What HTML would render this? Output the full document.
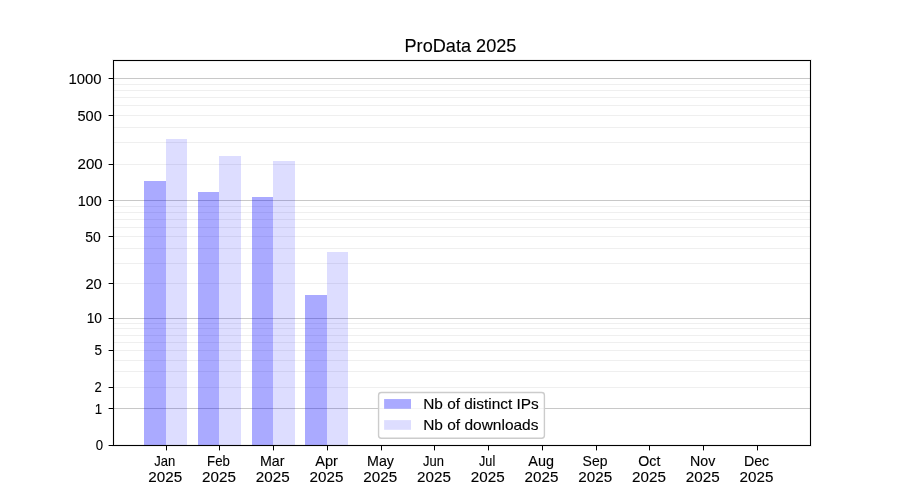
<!DOCTYPE html><html><head><meta charset="utf-8"><title>ProData 2025</title><style>html,body{margin:0;padding:0;background:#fff;overflow:hidden;}svg{display:block;will-change:transform;}text{font-family:"Liberation Sans",sans-serif;fill:#000;stroke:#000;stroke-width:0.12px;}</style></head><body>
<svg width="900" height="500" viewBox="0 0 900 500">
<rect x="0" y="0" width="900" height="500" fill="#fff"/>
<rect x="114" y="387" width="696" height="1" fill="#efefef"/>
<rect x="114" y="371" width="696" height="1" fill="#efefef"/>
<rect x="114" y="360" width="696" height="1" fill="#efefef"/>
<rect x="114" y="350" width="696" height="1" fill="#efefef"/>
<rect x="114" y="342" width="696" height="1" fill="#efefef"/>
<rect x="114" y="335" width="696" height="1" fill="#efefef"/>
<rect x="114" y="328" width="696" height="1" fill="#efefef"/>
<rect x="114" y="323" width="696" height="1" fill="#efefef"/>
<rect x="114" y="283" width="696" height="1" fill="#efefef"/>
<rect x="114" y="263" width="696" height="1" fill="#efefef"/>
<rect x="114" y="248" width="696" height="1" fill="#efefef"/>
<rect x="114" y="236" width="696" height="1" fill="#efefef"/>
<rect x="114" y="227" width="696" height="1" fill="#efefef"/>
<rect x="114" y="219" width="696" height="1" fill="#efefef"/>
<rect x="114" y="212" width="696" height="1" fill="#efefef"/>
<rect x="114" y="206" width="696" height="1" fill="#efefef"/>
<rect x="114" y="164" width="696" height="1" fill="#efefef"/>
<rect x="114" y="142" width="696" height="1" fill="#efefef"/>
<rect x="114" y="127" width="696" height="1" fill="#efefef"/>
<rect x="114" y="115" width="696" height="1" fill="#efefef"/>
<rect x="114" y="105" width="696" height="1" fill="#efefef"/>
<rect x="114" y="97" width="696" height="1" fill="#efefef"/>
<rect x="114" y="90" width="696" height="1" fill="#efefef"/>
<rect x="114" y="84" width="696" height="1" fill="#efefef"/>
<rect x="114" y="408" width="696" height="1" fill="#c8c8c8"/>
<rect x="114" y="318" width="696" height="1" fill="#c8c8c8"/>
<rect x="114" y="200" width="696" height="1" fill="#c8c8c8"/>
<rect x="114" y="78" width="696" height="1" fill="#c8c8c8"/>
<rect x="144" y="181" width="22" height="264" fill="rgba(0,0,255,0.333)"/>
<rect x="166" y="139" width="21" height="306" fill="rgba(0,0,255,0.133)"/>
<rect x="198" y="192" width="21" height="253" fill="rgba(0,0,255,0.333)"/>
<rect x="219" y="156" width="22" height="289" fill="rgba(0,0,255,0.133)"/>
<rect x="252" y="197" width="21" height="248" fill="rgba(0,0,255,0.333)"/>
<rect x="273" y="161" width="22" height="284" fill="rgba(0,0,255,0.133)"/>
<rect x="305" y="295" width="22" height="150" fill="rgba(0,0,255,0.333)"/>
<rect x="327" y="252" width="21" height="193" fill="rgba(0,0,255,0.133)"/>
<rect x="112" y="59" width="700" height="1" fill="rgba(0,0,0,0.06)"/><rect x="114" y="61" width="696" height="1" fill="rgba(0,0,0,0.06)"/>
<rect x="112" y="446" width="700" height="1" fill="rgba(0,0,0,0.06)"/><rect x="114" y="444" width="696" height="1" fill="rgba(0,0,0,0.06)"/>
<rect x="112" y="60" width="1" height="386" fill="rgba(0,0,0,0.06)"/><rect x="114" y="62" width="1" height="382" fill="rgba(0,0,0,0.06)"/>
<rect x="811" y="60" width="1" height="386" fill="rgba(0,0,0,0.06)"/><rect x="809" y="62" width="1" height="382" fill="rgba(0,0,0,0.06)"/>
<rect x="113" y="60" width="698" height="1" fill="#000"/>
<rect x="113" y="445" width="698" height="1" fill="#000"/>
<rect x="113" y="60" width="1" height="386" fill="#000"/>
<rect x="810" y="60" width="1" height="386" fill="#000"/>
<rect x="109" y="78" width="4" height="1" fill="#000"/><rect x="108" y="78" width="1" height="1" fill="rgba(0,0,0,0.4)"/>
<text transform="translate(68.43 84) scale(1.0622 1)" font-size="14">1000</text>
<rect x="109" y="115" width="4" height="1" fill="#000"/><rect x="108" y="115" width="1" height="1" fill="rgba(0,0,0,0.4)"/>
<text transform="translate(77.40 121) scale(1.0425 1)" font-size="14">500</text>
<rect x="109" y="164" width="4" height="1" fill="#000"/><rect x="108" y="164" width="1" height="1" fill="rgba(0,0,0,0.4)"/>
<text transform="translate(77.50 169) scale(1.0769 1)" font-size="14">200</text>
<rect x="109" y="200" width="4" height="1" fill="#000"/><rect x="108" y="200" width="1" height="1" fill="rgba(0,0,0,0.4)"/>
<text transform="translate(77.76 206) scale(1.0271 1)" font-size="14">100</text>
<rect x="109" y="236" width="4" height="1" fill="#000"/><rect x="108" y="236" width="1" height="1" fill="rgba(0,0,0,0.4)"/>
<text transform="translate(85.33 242) scale(0.9946 1)" font-size="14">50</text>
<rect x="109" y="283" width="4" height="1" fill="#000"/><rect x="108" y="283" width="1" height="1" fill="rgba(0,0,0,0.4)"/>
<text transform="translate(85.41 289) scale(1.0545 1)" font-size="14">20</text>
<rect x="109" y="318" width="4" height="1" fill="#000"/><rect x="108" y="318" width="1" height="1" fill="rgba(0,0,0,0.4)"/>
<text transform="translate(86.69 323) scale(0.9841 1)" font-size="14">10</text>
<rect x="109" y="350" width="4" height="1" fill="#000"/><rect x="108" y="350" width="1" height="1" fill="rgba(0,0,0,0.4)"/>
<text transform="translate(94.45 355) scale(0.9614 1)" font-size="14">5</text>
<rect x="109" y="387" width="4" height="1" fill="#000"/><rect x="108" y="387" width="1" height="1" fill="rgba(0,0,0,0.4)"/>
<text transform="translate(94.45 392) scale(0.9321 1)" font-size="14">2</text>
<rect x="109" y="408" width="4" height="1" fill="#000"/><rect x="108" y="408" width="1" height="1" fill="rgba(0,0,0,0.4)"/>
<text transform="translate(94.72 414) scale(0.9451 1)" font-size="14">1</text>
<rect x="109" y="445" width="4" height="1" fill="#000"/><rect x="108" y="445" width="1" height="1" fill="rgba(0,0,0,0.4)"/>
<text transform="translate(95.64 450) scale(0.9406 1)" font-size="14">0</text>
<rect x="166" y="446" width="1" height="4" fill="#000"/><rect x="166" y="450" width="1" height="1" fill="rgba(0,0,0,0.4)"/>
<text transform="translate(154.17 466) scale(0.9307 1)" font-size="14">Jan</text>
<text transform="translate(148.34 482) scale(1.0869 1)" font-size="14">2025</text>
<rect x="219" y="446" width="1" height="4" fill="#000"/><rect x="219" y="450" width="1" height="1" fill="rgba(0,0,0,0.4)"/>
<text transform="translate(207.07 466) scale(0.9432 1)" font-size="14">Feb</text>
<text transform="translate(202.09 482) scale(1.0869 1)" font-size="14">2025</text>
<rect x="273" y="446" width="1" height="4" fill="#000"/><rect x="273" y="450" width="1" height="1" fill="rgba(0,0,0,0.4)"/>
<text transform="translate(260.01 466) scale(1.0180 1)" font-size="14">Mar</text>
<text transform="translate(255.84 482) scale(1.0869 1)" font-size="14">2025</text>
<rect x="327" y="446" width="1" height="4" fill="#000"/><rect x="327" y="450" width="1" height="1" fill="rgba(0,0,0,0.4)"/>
<text transform="translate(315.18 466) scale(1.0413 1)" font-size="14">Apr</text>
<text transform="translate(309.59 482) scale(1.0869 1)" font-size="14">2025</text>
<rect x="381" y="446" width="1" height="4" fill="#000"/><rect x="381" y="450" width="1" height="1" fill="rgba(0,0,0,0.4)"/>
<text transform="translate(367.01 466) scale(1.0195 1)" font-size="14">May</text>
<text transform="translate(363.34 482) scale(1.0869 1)" font-size="14">2025</text>
<rect x="434" y="446" width="1" height="4" fill="#000"/><rect x="434" y="450" width="1" height="1" fill="rgba(0,0,0,0.4)"/>
<text transform="translate(423.07 466) scale(0.9262 1)" font-size="14">Jun</text>
<text transform="translate(417.09 482) scale(1.0869 1)" font-size="14">2025</text>
<rect x="488" y="446" width="1" height="4" fill="#000"/><rect x="488" y="450" width="1" height="1" fill="rgba(0,0,0,0.4)"/>
<text transform="translate(479.07 466) scale(0.9010 1)" font-size="14">Jul</text>
<text transform="translate(470.84 482) scale(1.0869 1)" font-size="14">2025</text>
<rect x="542" y="446" width="1" height="4" fill="#000"/><rect x="542" y="450" width="1" height="1" fill="rgba(0,0,0,0.4)"/>
<text transform="translate(528.28 466) scale(1.0294 1)" font-size="14">Aug</text>
<text transform="translate(524.59 482) scale(1.0869 1)" font-size="14">2025</text>
<rect x="596" y="446" width="1" height="4" fill="#000"/><rect x="596" y="450" width="1" height="1" fill="rgba(0,0,0,0.4)"/>
<text transform="translate(582.62 466) scale(0.9974 1)" font-size="14">Sep</text>
<text transform="translate(578.34 482) scale(1.0869 1)" font-size="14">2025</text>
<rect x="649" y="446" width="1" height="4" fill="#000"/><rect x="649" y="450" width="1" height="1" fill="rgba(0,0,0,0.4)"/>
<text transform="translate(638.28 466) scale(1.0130 1)" font-size="14">Oct</text>
<text transform="translate(632.09 482) scale(1.0869 1)" font-size="14">2025</text>
<rect x="703" y="446" width="1" height="4" fill="#000"/><rect x="703" y="450" width="1" height="1" fill="rgba(0,0,0,0.4)"/>
<text transform="translate(690.02 466) scale(1.0132 1)" font-size="14">Nov</text>
<text transform="translate(685.84 482) scale(1.0869 1)" font-size="14">2025</text>
<rect x="757" y="446" width="1" height="4" fill="#000"/><rect x="757" y="450" width="1" height="1" fill="rgba(0,0,0,0.4)"/>
<text transform="translate(743.92 466) scale(1.0131 1)" font-size="14">Dec</text>
<text transform="translate(739.59 482) scale(1.0869 1)" font-size="14">2025</text>
<text transform="translate(404.49 52) scale(1.0087 1)" font-size="18">ProData 2025</text>
<rect x="378.56" y="392.56" width="165.84" height="45.74" rx="2.8" ry="2.8" fill="rgba(255,255,255,0.8)" stroke="#cccccc" stroke-width="1.39"/>
<rect x="384.1" y="399.05" width="26.9" height="9.7" fill="rgba(0,0,255,0.333)"/>
<rect x="384.1" y="420.1" width="26.9" height="9.7" fill="rgba(0,0,255,0.133)"/>
<text transform="translate(423.15 409) scale(1.1010 1)" font-size="14">Nb of distinct IPs</text>
<text transform="translate(423.15 430) scale(1.1069 1)" font-size="14">Nb of downloads</text>
</svg></body></html>
